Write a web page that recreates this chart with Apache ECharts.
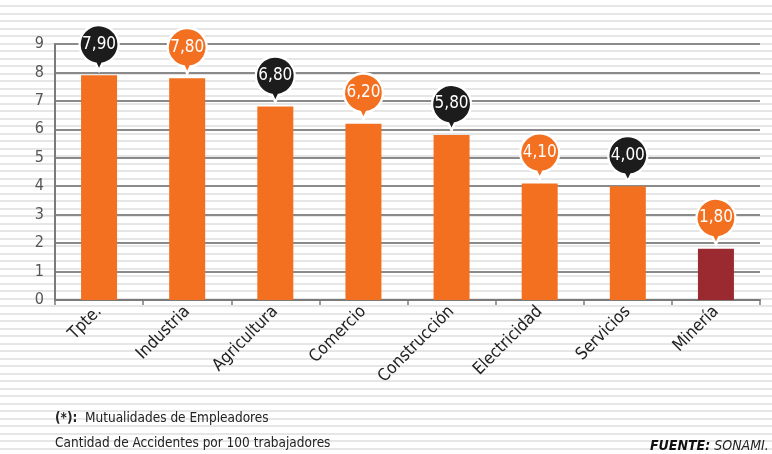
<!DOCTYPE html>
<html>
<head>
<meta charset="utf-8">
<script src="https://cdn.jsdelivr.net/npm/echarts@6/dist/echarts.min.js"></script>
<style>
html,body{margin:0;padding:0;}
#chart{width:772px;height:454px;
background-color:#fff;
background-image:repeating-linear-gradient(to bottom, #fff 0px, #fff 5.5px, #e6e6e6 5.5px, #e6e6e6 7.5px);
}
</style>
</head>
<body>
<div id="chart"></div>
<script>
// ---- data ----
const categories = ['Tpte.', 'Industria', 'Agricultura', 'Comercio', 'Construcción', 'Electricidad', 'Servicios', 'Minería'];
const values = [7.90, 7.80, 6.80, 6.20, 5.80, 4.10, 4.00, 1.80];
const yTicks = [0, 1, 2, 3, 4, 5, 6, 7, 8, 9];
const highlighted = 'Minería';
const note1Bold = '(*):';
const note1 = 'Mutualidades de Empleadores';
const note2 = 'Cantidad de Accidentes por 100 trabajadores';
const sourceBold = 'FUENTE:';
const sourceText = 'SONAMI.';

// ---- styles ----
const FONT = "'DejaVu Sans Condensed', 'Liberation Sans Narrow', sans-serif";
const ORANGE = '#f37021';
const RED = '#9b2a30';
const BLACK = '#1c1c1c';
const BUBBLE = 'path://M23 37.75 L20 44 L17 37.75 A18 18 0 1 1 23 37.75 Z';

const chart = echarts.init(document.getElementById('chart'), null, {renderer: 'canvas'});
chart.setOption({
  backgroundColor: 'transparent',
  animation: false,
  grid: {left: 55, right: 12, top: 44, bottom: 154},
  xAxis: {
    type: 'category',
    data: categories,
    axisLine: {lineStyle: {color: '#7a7a7a', width: 2}},
    axisTick: {show: true, length: 5, lineStyle: {color: '#7a7a7a', width: 1.5}},
    axisLabel: {interval: 0, rotate: 45, margin: 9, color: '#222', fontSize: 17, fontFamily: FONT}
  },
  yAxis: {
    type: 'value',
    min: yTicks[0],
    max: yTicks[yTicks.length - 1],
    interval: 1,
    axisLine: {show: true, lineStyle: {color: '#7a7a7a', width: 2}},
    axisTick: {show: false},
    axisLabel: {margin: 11, color: '#555', fontSize: 16, fontFamily: FONT},
    splitLine: {lineStyle: {color: '#8a8a8a', width: 2}}
  },
  series: [
    {
      type: 'bar',
      data: values,
      barWidth: 36,
      itemStyle: {color: p => categories[p.dataIndex] === highlighted ? RED : ORANGE},
      z: 2
    },
    {
      type: 'scatter',
      data: values,
      symbol: BUBBLE,
      symbolSize: [39, 45.5],
      symbolOffset: [0, -27.5],
      itemStyle: {
        color: p => (p.dataIndex % 2 === 0 ? BLACK : ORANGE),
        borderColor: '#fff',
        borderWidth: 2.5,
        opacity: 1
      },
      label: {
        show: true,
        position: 'inside',
        offset: [0, -3.5],
        formatter: p => p.value.toFixed(2).replace('.', ','),
        color: '#fff',
        fontSize: 17,
        fontFamily: FONT
      },
      emphasis: {disabled: true},
      z: 5
    }
  ],
  graphic: [
    {
      type: 'text', left: 55, top: 411,
      style: {
        text: '{b|' + note1Bold + '}  ' + note1,
        fontFamily: FONT, fontSize: 13.5, fill: '#222',
        rich: {b: {fontWeight: 'bold', fontFamily: FONT, fontSize: 13.5, fill: '#222'}}
      }
    },
    {
      type: 'text', left: 55, top: 436,
      style: {text: note2, fontFamily: FONT, fontSize: 13.5, fill: '#222'}
    },
    {
      type: 'text', left: 650, top: 439,
      style: {
        text: '{b|' + sourceBold + '} {i|' + sourceText + '}',
        fontFamily: FONT, fontSize: 14, fill: '#222',
        rich: {
          b: {fontWeight: 'bold', fontStyle: 'italic', fontFamily: FONT, fontSize: 14, fill: '#111'},
          i: {fontStyle: 'italic', fontFamily: FONT, fontSize: 14, fill: '#222'}
        }
      }
    }
  ]
});
</script>
</body>
</html>
